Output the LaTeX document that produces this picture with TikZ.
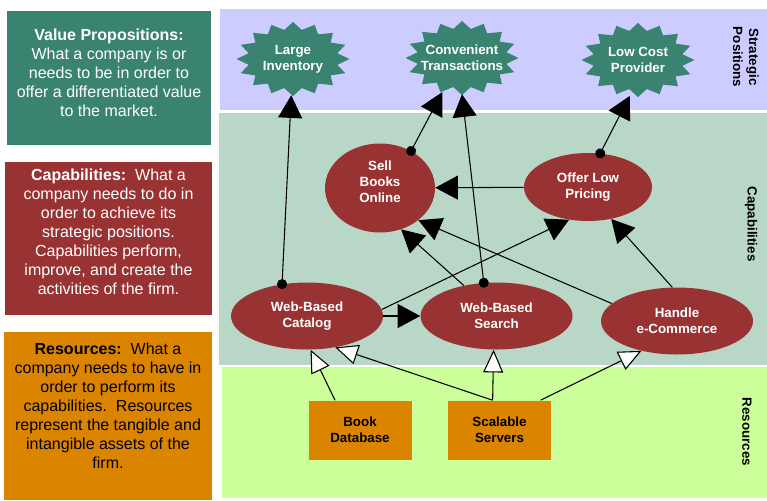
\documentclass[tikz,border=0pt]{standalone}
\usepackage{fontspec}
\setmainfont{Liberation Sans}
\usepackage{tikz}
\usetikzlibrary{shapes.geometric, arrows.meta, positioning, backgrounds}

\definecolor{sealgreen}{RGB}{58,131,112}
\definecolor{capred}{RGB}{153,51,51}
\definecolor{resorange}{RGB}{219,132,0}
\definecolor{posband}{RGB}{204,204,255}
\definecolor{capband}{RGB}{184,215,198}
\definecolor{resband}{RGB}{204,255,153}

\begin{document}
\begin{tikzpicture}[
    x=0.75pt,
    y=-0.75pt,
    position/.style={
        ellipse,
        inner sep=0pt,
        minimum width=84.75pt,
        minimum height=54pt,
        align=center,
        text=white,
        font=\bfseries\fontsize{10}{12}\selectfont
    },
    capability/.style={
        ellipse,
        inner sep=0pt,
        minimum width=114pt,
        minimum height=50.25pt,
        align=center,
        fill=capred,
        text=white,
        font=\bfseries\fontsize{10}{12}\selectfont
    },
    resource/.style={
        rectangle,
        minimum width=77.25pt,
        minimum height=44.25pt,
        align=center,
        fill=resorange,
        font=\bfseries\fontsize{10}{12}\selectfont
    },
    layertitle/.style={
        rotate=-90,
        align=center,
        font=\bfseries\fontsize{10}{12}\selectfont
    },
    legend/.style={
        align=center,
        font=\fontsize{12}{14.25}\selectfont
    },
    seal/.style={
        fill=sealgreen
    },
    arrow/.style={
        line width=0.8pt,
        -{Triangle[length=17pt, width=18pt]}
    },
    dotarrow/.style={
        arrow,
        {Circle[length=7.5pt]}-{Triangle[length=17pt, width=18pt]},
        shorten <=-3.75pt
    },
    openarrow/.style={
        line width=0.8pt,
        -{Triangle[open, fill=white, length=17pt, width=15pt]}
    }
]
\useasboundingbox (0,0) rectangle (767,500);
% STRATEGIC POSITIONS
\node (inventory) [position] at (293,59) {Large\\Inventory};
\node (convenient) [position] at (462,58) {Convenient\\Transactions};
\node (lowcost) [position] at (638,60) {Low Cost\\Provider};
% CAPABILITIES
\node (sellbooks) [capability, minimum width=82.5pt, minimum height=66.75pt, text depth=9pt] at (380,188) {Sell\\Books\\Online};
\node (lowpricing) [capability, minimum width=96pt, minimum height=51pt] at (588,187) {Offer Low\\Pricing};
\node (catalog) [capability] at (307,316) {Web-Based\\Catalog};
\node (search) [capability, right=27.75pt of catalog] {Web-Based\\Search};
\node (ecommerce) [capability] at (677,321) {Handle\\e-Commerce};
% RESOURCES
\node (bookdb) [resource] at (360,430) {Book\\Database};
\node (servers) [resource, right=27pt of bookdb] {Scalable\\Servers};
% LAYER TITLES
\node (posTitle) [layertitle] at (746,57) {Strategic\\Positions};
\node (capTitle) [layertitle] at (751,224) {Capabilities};
\node (resTitle) [layertitle] at (747,432) {Resources};
% LEGEND TEXT
\node (valueText) [legend, text=white] at (109,73)
    {\textbf{Value Propositions:}\\What a company is or\\needs to be in order to\\offer a differentiated value\\to the market.};
\node (capText) [legend, text=white] at (108.5,232)
    {\textbf{Capabilities:}\ \ What a\\company needs to do in\\order to achieve its\\strategic positions.\\Capabilities perform,\\improve, and create the\\activities of the firm.};
\node (resText) [legend] at (108,406)
    {\textbf{Resources:}\ \ What a\\company needs to have in\\order to perform its\\capabilities.\ \ Resources\\represent the tangible and\\intangible assets of the\\firm.};
% BANDS, PANELS AND SEALS
\begin{scope}[on background layer]
    \fill[posband] (220,9) rectangle (767,110);
    \fill[capband] (219,113) rectangle (767,365);
    \fill[resband] (222,367) rectangle (767,498);
    \fill[sealgreen] (7,11) rectangle (211,145);
    \fill[capred] (5,162) rectangle (212,315);
    \fill[resorange] (4,332) rectangle (212,500);
    \foreach \g in {inventory, convenient, lowcost}
        \fill[seal, shift={(\g.center)}] plot[samples at={0,...,31}, variable=\k]
            ({56.5*(1-0.2*mod(\k,2))*cos(11.25*\k)}, {37*(1-0.2*mod(\k,2))*sin(11.25*\k)}) -- cycle;
\end{scope}
% CAPABILITIES TO POSITIONS
\draw [dotarrow] (catalog.128) -- (inventory);
\draw [dotarrow] (sellbooks.50) -- (convenient.240);
\draw [dotarrow] (search.111) -- (convenient.270);
\draw [dotarrow] (lowpricing.70) -- (lowcost.257);
% BETWEEN CAPABILITIES
\draw [arrow] (lowpricing) -- (sellbooks);
\draw [arrow] (catalog) -- (search);
\draw [arrow] (catalog.5) -- (lowpricing.240);
\draw [arrow] (search.137) -- (sellbooks.297);
\draw [arrow] (ecommerce.165) -- (sellbooks.320);
\draw [arrow] (ecommerce.98) -- (lowpricing.306);
% RESOURCES TO CAPABILITIES
\draw [openarrow] (bookdb.130) -- (catalog.276);
\draw [openarrow] (servers.103) -- (catalog.312);
\draw [openarrow] (servers.103) -- (search.265);
\draw [openarrow] (servers.36) -- (ecommerce.220);
\end{tikzpicture}
\end{document}
